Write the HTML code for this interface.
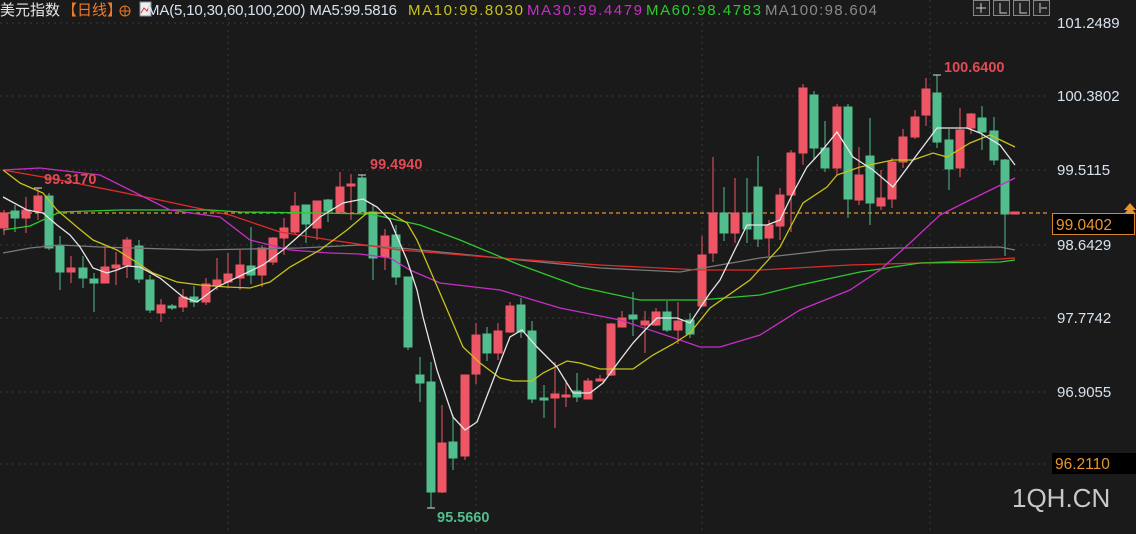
<!DOCTYPE html>
<html><head><meta charset="utf-8"><style>
html,body{margin:0;padding:0;background:#1a1a1a;width:1136px;height:534px;overflow:hidden}
svg{display:block}
text{font-family:"Liberation Sans","Noto Sans CJK SC",sans-serif}
</style></head><body>
<svg width="1136" height="534" viewBox="0 0 1136 534" xmlns="http://www.w3.org/2000/svg">
<rect width="1136" height="534" fill="#1a1a1a"/>
<g stroke="#3a3a3a" stroke-dasharray="2,4" stroke-width="1">
<line x1="0" y1="23" x2="1050" y2="23"/><line x1="0" y1="96" x2="1050" y2="96"/><line x1="0" y1="170" x2="1050" y2="170"/><line x1="0" y1="245" x2="1050" y2="245"/><line x1="0" y1="318" x2="1050" y2="318"/><line x1="0" y1="392" x2="1050" y2="392"/><line x1="0" y1="464" x2="1050" y2="464"/>
<line x1="228" y1="0" x2="228" y2="534"/><line x1="476" y1="0" x2="476" y2="534"/><line x1="702" y1="0" x2="702" y2="534"/><line x1="930" y1="0" x2="930" y2="534"/>
</g>
<line x1="0" y1="213" x2="1050" y2="213" stroke="#e8912a" stroke-dasharray="4,3" stroke-width="1.2"/>
<g stroke-width="1">
<g fill="#ee5565" stroke="#ee5565">
<line x1="4" y1="210" x2="4" y2="235"/><rect x="0" y="213" width="8" height="15"/>
<line x1="26" y1="197" x2="26" y2="233"/><rect x="22" y="210" width="8" height="8"/>
<line x1="38" y1="188" x2="38" y2="220"/><rect x="34" y="196" width="8" height="15"/>
<line x1="71" y1="256" x2="71" y2="283"/><rect x="67" y="268" width="8" height="4"/>
<line x1="105" y1="246" x2="105" y2="283"/><rect x="101" y="267" width="8" height="16"/>
<line x1="116" y1="252" x2="116" y2="285"/><rect x="112" y="265" width="8" height="3"/>
<line x1="127" y1="237" x2="127" y2="278"/><rect x="123" y="240" width="8" height="25"/>
<line x1="161" y1="299" x2="161" y2="322"/><rect x="157" y="305" width="8" height="8"/>
<line x1="183" y1="289" x2="183" y2="312"/><rect x="179" y="297" width="8" height="10"/>
<line x1="206" y1="278" x2="206" y2="305"/><rect x="202" y="284" width="8" height="18"/>
<line x1="217" y1="258" x2="217" y2="290"/><rect x="213" y="280" width="8" height="5"/>
<line x1="228" y1="253" x2="228" y2="288"/><rect x="224" y="274" width="8" height="8"/>
<line x1="240" y1="250" x2="240" y2="290"/><rect x="236" y="265" width="8" height="13"/>
<line x1="262" y1="245" x2="262" y2="287"/><rect x="258" y="248" width="8" height="27"/>
<line x1="273" y1="237" x2="273" y2="265"/><rect x="269" y="238" width="8" height="24"/>
<line x1="284" y1="218" x2="284" y2="255"/><rect x="280" y="228" width="8" height="10"/>
<line x1="295" y1="192" x2="295" y2="234"/><rect x="291" y="206" width="8" height="26"/>
<line x1="317" y1="201" x2="317" y2="240"/><rect x="313" y="201" width="8" height="27"/>
<line x1="340" y1="172" x2="340" y2="212"/><rect x="336" y="187" width="8" height="25"/>
<line x1="351" y1="174" x2="351" y2="220"/><rect x="347" y="184" width="8" height="2"/>
<line x1="385" y1="229" x2="385" y2="270"/><rect x="381" y="236" width="8" height="21"/>
<line x1="442" y1="405" x2="442" y2="493"/><rect x="438" y="443" width="8" height="49"/>
<line x1="465" y1="375" x2="465" y2="460"/><rect x="461" y="375" width="8" height="81"/>
<line x1="476" y1="323" x2="476" y2="384"/><rect x="472" y="335" width="8" height="39"/>
<line x1="498" y1="323" x2="498" y2="360"/><rect x="494" y="331" width="8" height="22"/>
<line x1="510" y1="302" x2="510" y2="333"/><rect x="506" y="306" width="8" height="26"/>
<line x1="555" y1="362" x2="555" y2="428"/><rect x="551" y="394" width="8" height="4"/>
<line x1="566" y1="380" x2="566" y2="407"/><rect x="562" y="395" width="8" height="2"/>
<line x1="588" y1="378" x2="588" y2="399"/><rect x="584" y="381" width="8" height="18"/>
<line x1="600" y1="375" x2="600" y2="381"/><rect x="596" y="379" width="8" height="2"/>
<line x1="611" y1="323" x2="611" y2="376"/><rect x="607" y="324" width="8" height="51"/>
<line x1="622" y1="311" x2="622" y2="327"/><rect x="618" y="318" width="8" height="9"/>
<line x1="645" y1="311" x2="645" y2="353"/><rect x="641" y="321" width="8" height="4"/>
<line x1="656" y1="308" x2="656" y2="326"/><rect x="652" y="312" width="8" height="13"/>
<line x1="678" y1="302" x2="678" y2="344"/><rect x="674" y="321" width="8" height="9"/>
<line x1="702" y1="236" x2="702" y2="306"/><rect x="698" y="255" width="8" height="51"/>
<line x1="713" y1="157" x2="713" y2="262"/><rect x="709" y="213" width="8" height="40"/>
<line x1="735" y1="178" x2="735" y2="243"/><rect x="731" y="213" width="8" height="20"/>
<line x1="769" y1="220" x2="769" y2="256"/><rect x="765" y="225" width="8" height="13"/>
<line x1="780" y1="188" x2="780" y2="240"/><rect x="776" y="195" width="8" height="31"/>
<line x1="791" y1="150" x2="791" y2="232"/><rect x="787" y="153" width="8" height="42"/>
<line x1="803" y1="84" x2="803" y2="165"/><rect x="799" y="88" width="8" height="65"/>
<line x1="837" y1="104" x2="837" y2="175"/><rect x="833" y="107" width="8" height="61"/>
<line x1="859" y1="147" x2="859" y2="205"/><rect x="855" y="175" width="8" height="25"/>
<line x1="881" y1="170" x2="881" y2="210"/><rect x="877" y="198" width="8" height="8"/>
<line x1="892" y1="158" x2="892" y2="208"/><rect x="888" y="162" width="8" height="37"/>
<line x1="903" y1="129" x2="903" y2="168"/><rect x="899" y="137" width="8" height="25"/>
<line x1="915" y1="110" x2="915" y2="139"/><rect x="911" y="117" width="8" height="20"/>
<line x1="926" y1="78" x2="926" y2="126"/><rect x="922" y="89" width="8" height="26"/>
<line x1="960" y1="108" x2="960" y2="177"/><rect x="956" y="130" width="8" height="38"/>
<line x1="971" y1="113" x2="971" y2="134"/><rect x="967" y="114" width="8" height="14"/>
<rect x="1011" y="212" width="8" height="2"/>
</g>
<g fill="#52bd8d" stroke="#52bd8d">
<line x1="15" y1="205" x2="15" y2="232"/><rect x="11" y="211" width="8" height="7"/>
<line x1="49" y1="193" x2="49" y2="250"/><rect x="45" y="196" width="8" height="52"/>
<line x1="60" y1="236" x2="60" y2="290"/><rect x="56" y="246" width="8" height="26"/>
<line x1="83" y1="256" x2="83" y2="288"/><rect x="79" y="268" width="8" height="10"/>
<line x1="94" y1="273" x2="94" y2="312"/><rect x="90" y="279" width="8" height="4"/>
<line x1="139" y1="240" x2="139" y2="283"/><rect x="135" y="246" width="8" height="33"/>
<line x1="150" y1="275" x2="150" y2="313"/><rect x="146" y="280" width="8" height="30"/>
<line x1="172" y1="304" x2="172" y2="310"/><rect x="168" y="306" width="8" height="2"/>
<line x1="194" y1="286" x2="194" y2="307"/><rect x="190" y="297" width="8" height="5"/>
<line x1="251" y1="227" x2="251" y2="284"/><rect x="247" y="266" width="8" height="9"/>
<line x1="306" y1="205" x2="306" y2="243"/><rect x="302" y="205" width="8" height="19"/>
<line x1="328" y1="199" x2="328" y2="222"/><rect x="324" y="200" width="8" height="11"/>
<line x1="362" y1="175" x2="362" y2="212"/><rect x="358" y="178" width="8" height="34"/>
<line x1="373" y1="205" x2="373" y2="280"/><rect x="369" y="212" width="8" height="46"/>
<line x1="396" y1="225" x2="396" y2="285"/><rect x="392" y="235" width="8" height="42"/>
<line x1="408" y1="277" x2="408" y2="350"/><rect x="404" y="277" width="8" height="70"/>
<line x1="420" y1="357" x2="420" y2="402"/><rect x="416" y="375" width="8" height="8"/>
<line x1="431" y1="362" x2="431" y2="508"/><rect x="427" y="382" width="8" height="110"/>
<line x1="453" y1="415" x2="453" y2="470"/><rect x="449" y="442" width="8" height="16"/>
<line x1="487" y1="327" x2="487" y2="361"/><rect x="483" y="334" width="8" height="19"/>
<line x1="521" y1="298" x2="521" y2="338"/><rect x="517" y="305" width="8" height="27"/>
<line x1="532" y1="321" x2="532" y2="403"/><rect x="528" y="331" width="8" height="68"/>
<line x1="544" y1="385" x2="544" y2="418"/><rect x="540" y="398" width="8" height="2"/>
<line x1="577" y1="373" x2="577" y2="402"/><rect x="573" y="391" width="8" height="6"/>
<line x1="633" y1="292" x2="633" y2="336"/><rect x="629" y="315" width="8" height="4"/>
<line x1="667" y1="301" x2="667" y2="332"/><rect x="663" y="312" width="8" height="18"/>
<line x1="690" y1="313" x2="690" y2="338"/><rect x="686" y="320" width="8" height="14"/>
<line x1="724" y1="187" x2="724" y2="241"/><rect x="720" y="213" width="8" height="20"/>
<line x1="747" y1="178" x2="747" y2="243"/><rect x="743" y="213" width="8" height="16"/>
<line x1="758" y1="156" x2="758" y2="247"/><rect x="754" y="187" width="8" height="52"/>
<line x1="814" y1="91" x2="814" y2="160"/><rect x="810" y="95" width="8" height="53"/>
<line x1="825" y1="121" x2="825" y2="172"/><rect x="821" y="148" width="8" height="20"/>
<line x1="848" y1="104" x2="848" y2="218"/><rect x="844" y="107" width="8" height="92"/>
<line x1="870" y1="118" x2="870" y2="225"/><rect x="866" y="156" width="8" height="47"/>
<line x1="937" y1="75" x2="937" y2="148"/><rect x="933" y="93" width="8" height="49"/>
<line x1="949" y1="129" x2="949" y2="190"/><rect x="945" y="140" width="8" height="29"/>
<line x1="982" y1="106" x2="982" y2="150"/><rect x="978" y="118" width="8" height="14"/>
<line x1="994" y1="117" x2="994" y2="165"/><rect x="990" y="131" width="8" height="29"/>
<line x1="1005" y1="159" x2="1005" y2="256"/><rect x="1001" y="160" width="8" height="54"/>
</g>
</g>
<g fill="none" stroke-width="1.3">
<polyline stroke="#7a7a7a" points="3,253 30,248 60,245 100,247 200,250 300,248 360,245 400,248 500,258 600,268 680,272 760,258 830,250 900,248 1000,247 1015,250"/>
<polyline stroke="#e02b2b" points="3,170 60,180 150,198 230,215 280,232 330,240 400,250 500,258 600,265 700,270 760,270 850,265 920,263 1000,259 1015,258"/>
<polyline stroke="#2ec92e" points="3,230 30,226 60,212 120,210 210,210 240,212 320,213 370,214 420,225 460,240 520,265 580,287 640,300 700,300 760,295 800,285 860,272 920,263 1000,262 1015,260"/>
<polyline stroke="#c62fc6" points="3,170 40,168 100,175 130,190 170,210 220,217 250,240 290,250 330,253 360,254 390,258 410,270 440,283 500,290 560,308 620,320 680,340 700,347 720,347 760,335 800,310 850,290 880,270 910,243 940,215 970,200 1015,178"/>
<polyline stroke="#c8c21a" points="3,170 20,183 43,193 57,210 77,227 93,240 117,250 133,260 153,273 177,282 200,285 227,287 250,288 270,282 290,267 320,250 347,230 367,213 390,213 407,223 417,240 430,270 443,300 463,347 480,363 500,378 513,381 532,381 543,373 567,361 580,363 600,369 633,369 653,355 673,344 690,333 710,308 750,280 780,247 803,203 827,187 837,175 860,167 893,160 913,160 933,153 947,157 970,143 990,135 1015,147"/>
<polyline stroke="#e6e6e6" points="3,197 27,210 43,213 57,225 70,235 80,247 93,268 107,273 117,270 127,266 140,267 160,278 183,297 197,302 217,287 240,276 263,265 283,250 300,235 320,217 343,203 363,199 377,207 390,220 407,260 417,290 423,317 437,370 453,417 465,430 477,422 497,370 510,337 522,330 537,347 557,367 573,393 590,393 603,383 620,360 633,343 645,330 657,318 677,318 690,323 710,293 720,280 747,225 767,225 780,220 793,193 807,167 820,153 837,132 853,157 873,170 893,187 913,160 937,128 967,128 980,133 1000,145 1015,165"/>
</g>
<g stroke="#ddd" stroke-width="1"><line x1="34" y1="188" x2="42" y2="188"/><line x1="358" y1="175" x2="366" y2="175"/><line x1="933" y1="75" x2="941" y2="75"/><line x1="427" y1="508" x2="435" y2="508"/></g>
<g font-size="14.5" font-weight="bold" fill="#e04a55">
<text x="44" y="184">99.3170</text><text x="370" y="169">99.4940</text><text x="944" y="72">100.6400</text>
</g>
<text x="437" y="522" font-size="14.5" font-weight="bold" fill="#52bd8d">95.5660</text>
<line x1="1008" y1="213" x2="1020" y2="213" stroke="#ee5565" stroke-width="1.2"/>
<g font-size="15" fill="#d8e2ee">
<text x="1057" y="28">101.2489</text><text x="1057" y="101">100.3802</text><text x="1057" y="175">99.5115</text><text x="1057" y="250">98.6429</text><text x="1057" y="323">97.7742</text><text x="1057" y="397">96.9055</text>
</g>
<rect x="1052.5" y="213.5" width="82" height="21" fill="#000" stroke="#d5862a"/>
<text x="1056" y="230" font-size="15.5" fill="#e8952f">99.0402</text>
<polygon points="1124,210 1130,203 1136,210" fill="#e8952f"/><polygon points="1124,214 1130,207 1136,214" fill="#e8952f"/>
<rect x="1052" y="453" width="84" height="21" fill="#000"/>
<text x="1055" y="469" font-size="15.5" fill="#e8952f">96.2110</text>
<text x="1012" y="507" font-size="26" fill="#c8c8c8">1QH.CN</text>
<g font-size="15">
<text x="0" y="15" fill="#e6e6e6">美元指数</text>
<text x="62" y="15" fill="#f07a2a">【日线】</text>
<circle cx="125" cy="11" r="5" fill="none" stroke="#f07a2a"/><line x1="120" y1="11" x2="130" y2="11" stroke="#f07a2a"/><line x1="125" y1="6" x2="125" y2="16" stroke="#f07a2a"/>
<rect x="140" y="2" width="11" height="14" fill="#eee" stroke="#88a"/><polyline points="141,13 144,8 147,11 150,5" fill="none" stroke="#d33" stroke-width="1"/>
<text x="147" y="15" fill="#d8e2ee" textLength="250">MA(5,10,30,60,100,200) MA5:99.5816</text>
<text x="408" y="15" fill="#c8c21a" textLength="115">MA10:99.8030</text>
<text x="527" y="15" fill="#c62fc6" textLength="115">MA30:99.4479</text>
<text x="646" y="15" fill="#2ec92e" textLength="115">MA60:98.4783</text>
<text x="765" y="15" fill="#8a8a8a" textLength="112">MA100:98.604</text>
</g>
<g fill="#222" stroke="#888">
<rect x="973.5" y="0.5" width="16" height="15"/><rect x="993.5" y="0.5" width="16" height="15"/><rect x="1013.5" y="0.5" width="16" height="15"/><rect x="1033.5" y="0.5" width="16" height="15"/>
</g>
<g stroke="#ccc" fill="none"><path d="M981 3v10M976 8h10M1000 3v10h7M1020 3v10h7M1040 3v10M1041 8h6"/></g>
</svg>
</body></html>
